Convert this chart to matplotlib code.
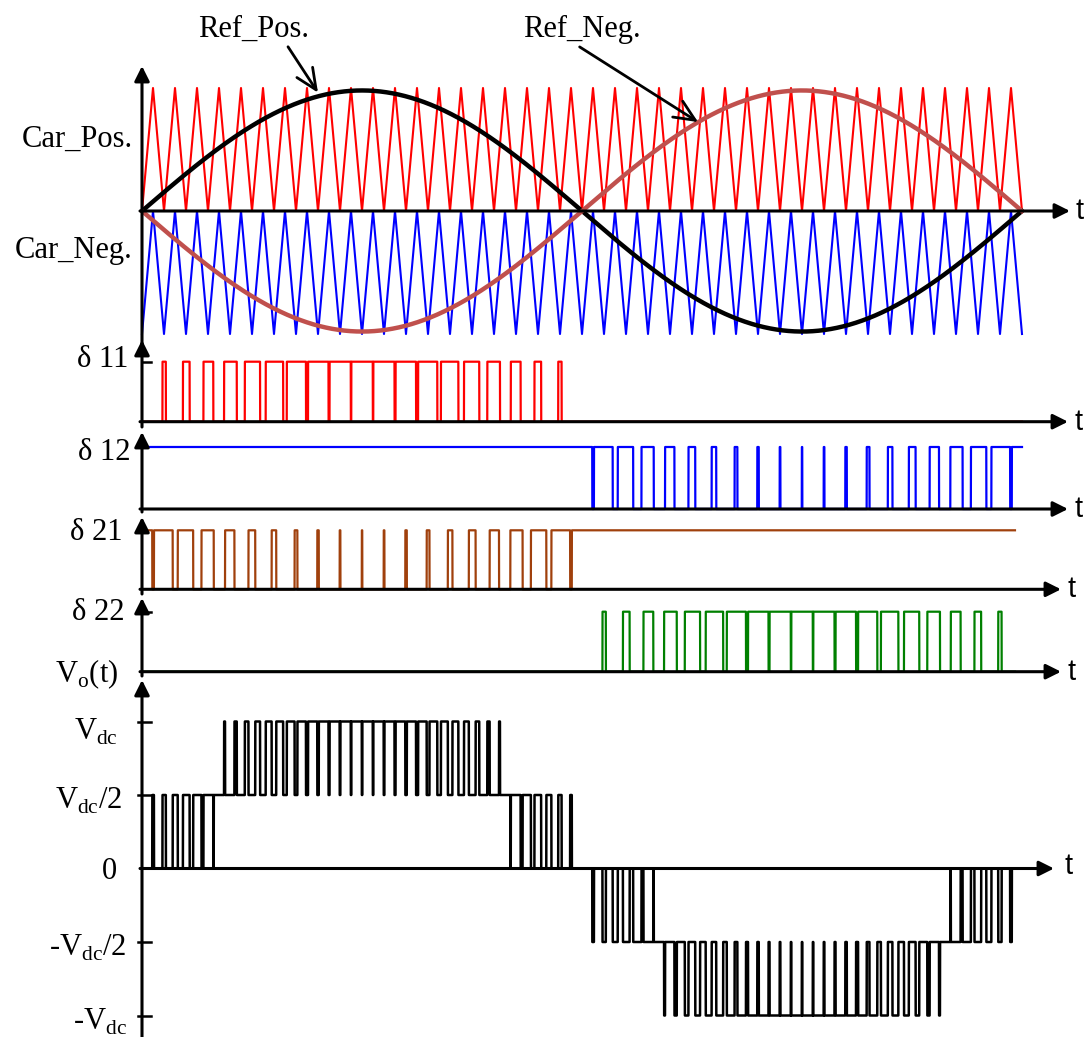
import numpy as np
import matplotlib.pyplot as plt

plt.rcParams['font.family'] = ['Liberation Serif', 'DejaVu Serif']
plt.rcParams['mathtext.fontset'] = 'custom'
plt.rcParams['mathtext.rm'] = 'Liberation Serif'

# values
n_carriers = 40            # triangle periods in one fundamental period
ref_amp = 0.98             # reference peak, just under the carrier peak
car_levels = [0.0, 1.0]    # positive carrier swings 0..1, negative one is shifted by -1

gate_names = ['δ 11', 'δ 12', 'δ 21', 'δ 22']
gate_colors = ['#ff0000', '#0000ff', '#a0400c', '#008000']
gate_t_end = [1.0, 1.0, 0.992, 0.992]

vo_levels = [1.0, 0.5, 0.0, -0.5, -1.0]
vo_labels = [r'V$_{\mathrm{dc}}$', r'V$_{\mathrm{dc}}$/2', '0',
             r'-V$_{\mathrm{dc}}$/2', r'-V$_{\mathrm{dc}}$']

# carrier vertices and reference
car_t = np.linspace(0, 1, 2 * n_carriers + 1)
car_pos = np.resize(car_levels, car_t.size).astype(float)
car_neg = car_pos - 1.0

t = np.linspace(0, 1, 40001)
ref_pos = np.round(ref_amp * np.sin(2 * np.pi * t), 12)
ref_neg = -ref_pos
cp = np.interp(t, car_t, car_pos)
cn = np.interp(t, car_t, car_neg)

g11 = (ref_pos > cp).astype(float)
g12 = (ref_pos > cn).astype(float)
g21 = (ref_neg > cn).astype(float)
g22 = (ref_neg > cp).astype(float)
gates = [g11, g12, g21, g22]
vo = 0.5 * (g11 + g12 - g21 - g22)

# page geometry (pixels)
W, H = 1085, 1037
X0, XS = 142, 880

fig = plt.figure(figsize=(W / 100, H / 100), dpi=100)


def px_t(px):
    return (px - X0) / XS


def panel(top, bot, zero, unit):
    ax = fig.add_axes([0, 1 - bot / H, 1, (bot - top) / H])
    ax.set_xlim(px_t(0), px_t(W))
    ax.set_ylim((zero - bot) / unit, (zero - top) / unit)
    ax.axis('off')
    return ax


def axes_arrows(ax, zero, unit, v_from, v_tip, h_tip, t_x, t_dy=0):
    head = dict(arrowstyle='-|>,head_length=0.6,head_width=0.3', lw=2.2,
                color='k', mutation_scale=15, shrinkA=0, shrinkB=0)
    ax.annotate('', xy=(0, (zero - v_tip) / unit), xytext=(0, (zero - v_from) / unit),
                arrowprops=head, annotation_clip=False)
    ax.annotate('', xy=(px_t(h_tip), 0), xytext=(px_t(140), 0),
                arrowprops=head, annotation_clip=False)
    ax.text(px_t(t_x), -t_dy / unit, 't', family='Liberation Sans', fontsize=21,
            ha='center', va='center')


# top panel: carriers and references
zero, unit = 211, 123
ax = panel(0, 345, zero, unit)
ax.plot(car_t, car_pos, color='#ff0000', lw=1.5)
ax.plot(car_t, car_neg, color='#0000ff', lw=1.5)
axes_arrows(ax, zero, unit, 345, 66, 1070, 1080)
ax.plot(t, ref_pos, color='k', lw=3.2)
ax.plot(t, ref_neg, color='#c0504d', lw=3.2)
ax.text(px_t(133), (zero - 147) / unit, 'Car_Pos.', fontsize=22, ha='right', va='baseline')
ax.text(px_t(133), (zero - 258) / unit, 'Car_Neg.', fontsize=22, ha='right', va='baseline')
open_head = dict(arrowstyle='->,head_length=1.0,head_width=0.45', lw=2, color='k',
                 mutation_scale=15, shrinkA=0, shrinkB=0)
tp, tn = 0.2, 0.632
ax.annotate('Ref_Pos.', xy=(tp, ref_amp * np.sin(2 * np.pi * tp) + 0.03),
            xytext=(px_t(254), (zero - 37) / unit), ha='center', va='baseline',
            fontsize=22, arrowprops=dict(open_head, relpos=(0.79, 0)),
            annotation_clip=False)
ax.annotate('Ref_Neg.', xy=(tn, -ref_amp * np.sin(2 * np.pi * tn)),
            xytext=(px_t(582), (zero - 37) / unit), ha='center', va='baseline',
            fontsize=22, arrowprops=dict(open_head, relpos=(0.48, -0.1)),
            annotation_clip=False)

# gate signal panels
gate_geo = [  # top, bottom, zero, unit, arrow tip, label centre, t x, tick
    (340, 427, 421.7, 60, 340, 360, 1079, True),
    (427, 512, 509, 62, 432, 452, 1079, False),
    (512, 594, 589.3, 59, 517, 532, 1072, False),
    (594, 676, 671.7, 60, 598, 612, 1072, True),
]
label_right = [128, 130, 123, 124]
for g, name, col, tend, geo, lr in zip(gates, gate_names, gate_colors, gate_t_end,
                                       gate_geo, label_right):
    top, bot, zero, unit, tip, lab_y, tx, tick = geo
    ax = panel(top, bot, zero, unit)
    m = t <= tend
    ax.plot(t[m], g[m], color=col, lw=1.6)
    axes_arrows(ax, zero, unit, bot, tip, tx - 11, tx)
    if tick:
        ax.plot([0, px_t(151)], [1, 1], color='k', lw=1.8)
    ax.text(px_t(lr), (zero - lab_y) / unit, name, fontsize=22, ha='right', va='center')

# output voltage panel
zero, unit = 868.5, 147
ax = panel(676, H, zero, unit)
ax.plot(t, vo, color='k', lw=1.8)
axes_arrows(ax, zero, unit, H, 680, 1054, 1069, t_dy=-3)
vo_label_right = [118, 122, 117, 127, 127]
vo_label_shift = [10, 6, 3, 6, 6]
for lev, lab, lr, dy in zip(vo_levels, vo_labels, vo_label_right, vo_label_shift):
    if lev != 0:
        ax.plot([px_t(138), px_t(151)], [lev, lev], color='k', lw=1.8)
    ax.text(px_t(lr), lev - dy / unit, lab, fontsize=22, ha='right', va='center')
ax.text(px_t(118), (zero - 674) / unit, r'V$_{\mathrm{o}}$(t)', fontsize=22,
        ha='right', va='center')

fig.savefig('out.png', dpi=100)
